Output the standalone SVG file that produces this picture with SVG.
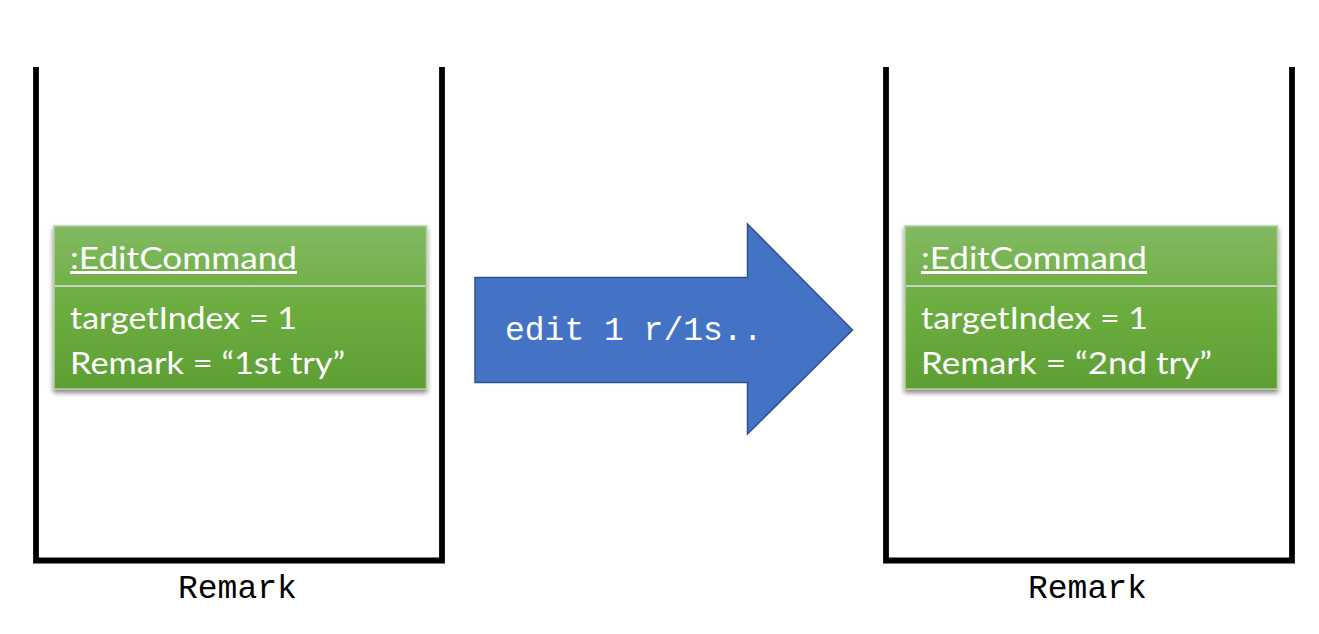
<svg xmlns="http://www.w3.org/2000/svg" width="1319" height="634" viewBox="0 0 1319 634">
<defs>
<linearGradient id="g" x1="0" y1="0" x2="0" y2="1">
<stop offset="0" stop-color="#82b962"/>
<stop offset="0.5" stop-color="#6cad40"/>
<stop offset="1" stop-color="#5e9f33"/>
</linearGradient>
<filter id="sh" x="-10%" y="-10%" width="120%" height="130%">
<feGaussianBlur in="SourceAlpha" stdDeviation="2.5"/>
<feOffset dx="0" dy="3" result="b"/>
<feComponentTransfer><feFuncA type="linear" slope="0.5"/></feComponentTransfer>
<feMerge><feMergeNode/><feMergeNode in="SourceGraphic"/></feMerge>
</filter>
</defs>
<style>
.cont{fill:none;stroke:#000;stroke-width:5.8}
.box{fill:url(#g);stroke:#b5cfa5;stroke-width:1.5}
.div{stroke:#c9d3c2;stroke-width:2}
.t{font-family:Lato,"Open Sans",sans-serif;font-size:30px;fill:#fff}
.u{text-decoration:underline}
.m{font-family:"Liberation Mono","DejaVu Sans Mono",monospace;font-size:33px}
</style>
<rect width="1319" height="634" fill="#fff"/>
<g id="left-container">
<path class="cont" d="M36,67 V560.5 H442 V67"/>
<text class="m" x="178" y="598" fill="#000">Remark</text>
</g>
<g id="right-container">
<path class="cont" d="M886,67 V560.5 H1292 V67"/>
<text class="m" x="1028" y="598" fill="#000">Remark</text>
</g>
<g id="left-object">
<rect class="box" x="54" y="226" width="372.5" height="163" filter="url(#sh)"/>
<line class="div" x1="55" y1="286" x2="425.5" y2="286"/>
<text class="t u" x="70" y="269" textLength="227" lengthAdjust="spacingAndGlyphs">:EditCommand</text>
<text class="t" x="70" y="329" textLength="227" lengthAdjust="spacingAndGlyphs">targetIndex = 1</text>
<text class="t" x="70" y="374" textLength="275" lengthAdjust="spacingAndGlyphs">Remark = “1st try”</text>
</g>
<g id="right-object">
<rect class="box" x="905" y="226" width="372.5" height="163" filter="url(#sh)"/>
<line class="div" x1="906" y1="286" x2="1276.5" y2="286"/>
<text class="t u" x="921" y="269" textLength="226" lengthAdjust="spacingAndGlyphs">:EditCommand</text>
<text class="t" x="921" y="329" textLength="227" lengthAdjust="spacingAndGlyphs">targetIndex = 1</text>
<text class="t" x="921" y="374" textLength="291" lengthAdjust="spacingAndGlyphs">Remark = “2nd try”</text>
</g>
<g id="connectors">
<g id="edit-arrow">
<polygon points="475,277.5 747.5,277.5 747.5,224 852.5,330 747.5,434 747.5,382.5 475,382.5" fill="#4472c4" stroke="#2f528f" stroke-width="1.5"/>
<text class="m" x="505" y="340" fill="#fff">edit 1 r/1s..</text>
</g>
</g>
</svg>
